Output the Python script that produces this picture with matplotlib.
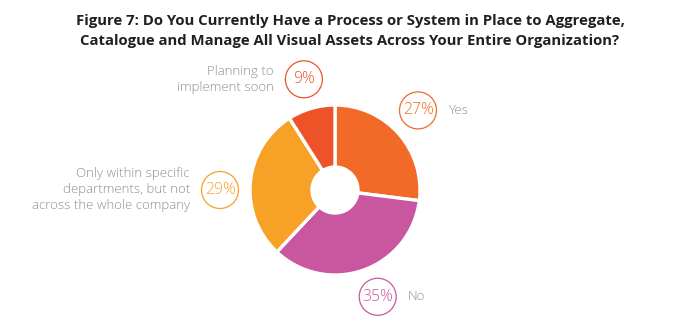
import matplotlib
matplotlib.use("Agg")
import matplotlib.pyplot as plt
from matplotlib.patches import Circle
import numpy as np

categories = ["Yes", "No", "Only within specific\ndepartments, but not\nacross the whole company", "Planning to\nimplement soon"]
values = [27, 35, 29, 9]
pct_labels = ["27%", "35%", "29%", "9%"]
colors = ["#F16A28", "#C957A0", "#F7A127", "#EE5327"]

title = ("Figure 7: Do You Currently Have a Process or System in Place to Aggregate,\n"
         "Catalogue and Manage All Visual Assets Across Your Entire Organization?")

W, H = 700, 325
fig = plt.figure(figsize=(7, 3.25), dpi=100)
ax = fig.add_axes([0, 0, 1, 1])

cx, cy = 335, H - 190
R = 85
hole = 23
wedges, _ = ax.pie(values, colors=colors, startangle=90, counterclock=False,
                   center=(cx, cy), radius=R, frame=True,
                   wedgeprops=dict(width=R - hole, edgecolor="white", linewidth=2.4))
ax.set_xlim(0, W)
ax.set_ylim(0, H)
ax.set_aspect("equal")
ax.axis("off")

# label placement relative to each wedge's mid-angle
label_r = 115
angle_adj = [2.4, 2.0, 5.4, -0.5]
side = [1, 1, -1, -1]
grey = "#8C8E91"
for w, pct, cat, col, adj, s in zip(wedges, pct_labels, categories, colors, angle_adj, side):
    mid = np.deg2rad((w.theta1 + w.theta2) / 2 + adj)
    px = cx + label_r * np.cos(mid)
    py = cy + label_r * np.sin(mid)
    ax.add_patch(Circle((px, py), 18.5, facecolor="white", edgecolor=col, linewidth=0.9))
    ax.text(px, py, pct, color=col, fontsize=11.3, ha="center", va="center",
            family=["Open Sans", "DejaVu Sans"], fontweight="light")
    ax.text(px + s * 30, py, cat, color=grey, fontsize=9.5,
            ha="left" if s > 0 else "right", va="center", linespacing=1.3,
            family=["Open Sans", "DejaVu Sans"], fontweight="light")

fig.text(0.5, 1 - 31 / H, title, ha="center", va="center", fontsize=10.7,
         fontweight="bold", color="#231F20", linespacing=1.6,
         family=["Open Sans", "DejaVu Sans"])

fig.savefig("out.png", dpi=100, facecolor="white")
